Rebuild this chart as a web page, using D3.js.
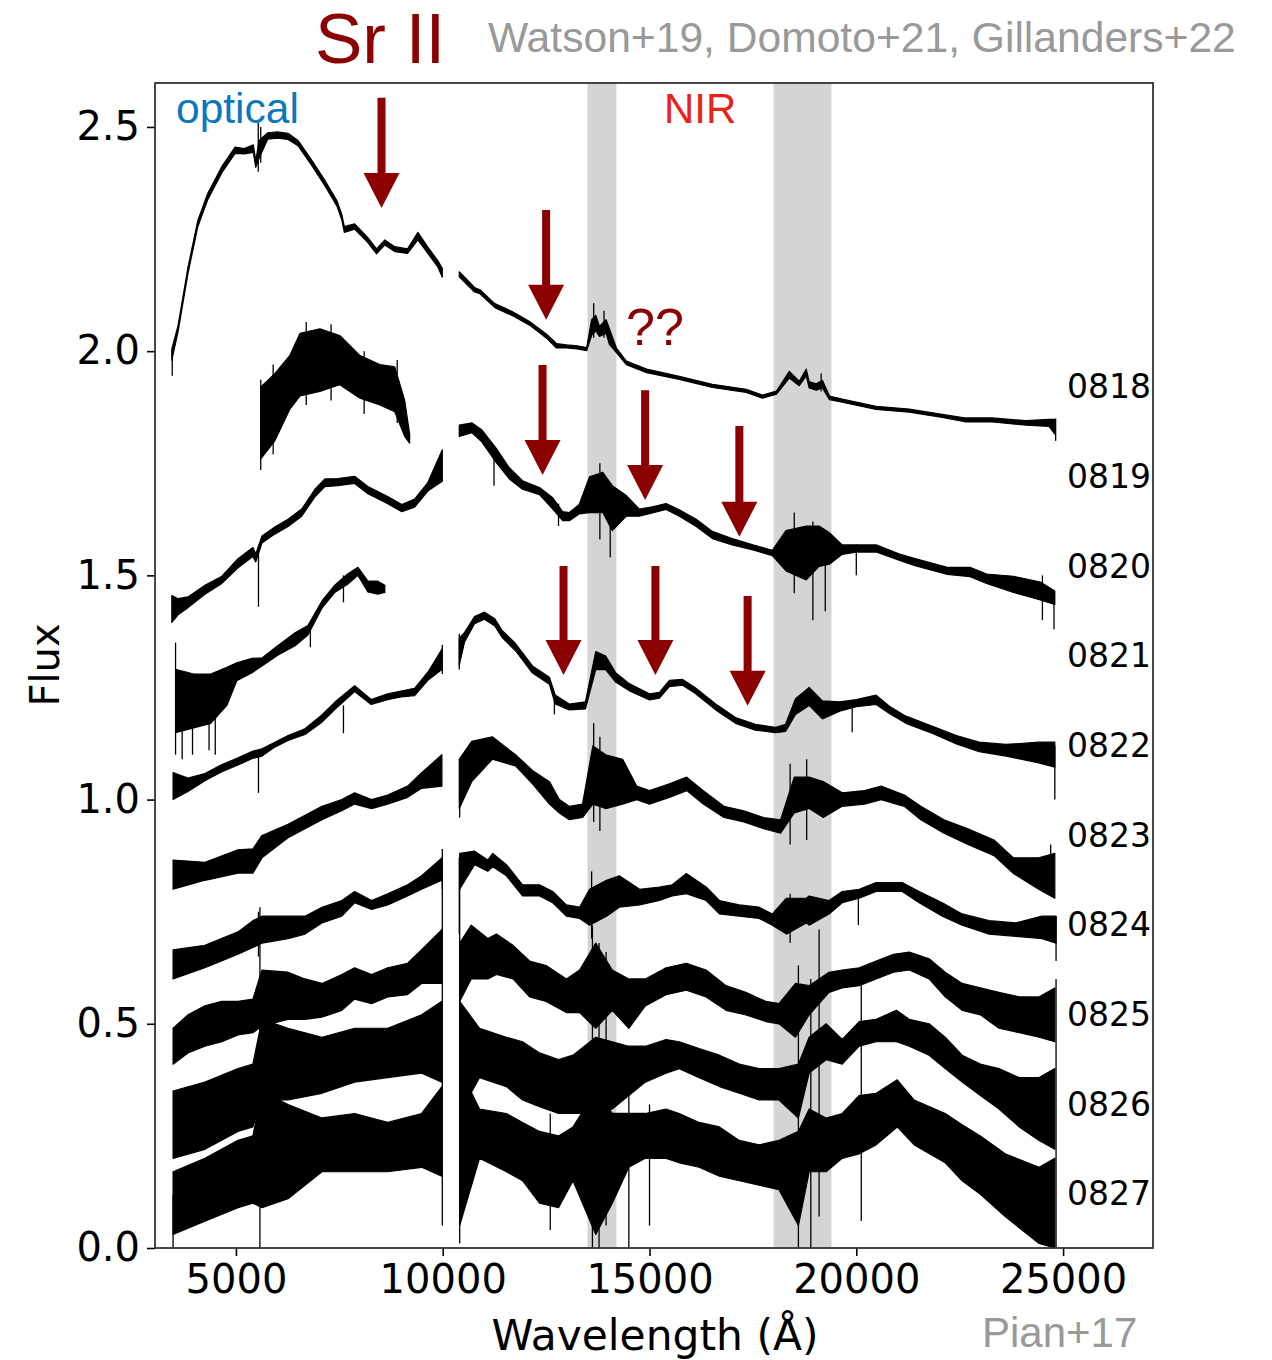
<!DOCTYPE html>
<html>
<head>
<meta charset="utf-8">
<script src="https://cdn.jsdelivr.net/npm/d3@7"></script>
<style>
  body { margin: 0; background: #fff; }
  .axis text { font-family: "DejaVu Sans", sans-serif; font-size: 40px; fill: #000; }
  .axis line { stroke: #000; stroke-width: 1.6; }
</style>
</head>
<body>
<svg id="chart" width="1272" height="1360"></svg>
<script>
// ── Axis / label data ──
const xTicks = [5000, 10000, 15000, 20000, 25000];
const yTicks = [0, 0.5, 1.0, 1.5, 2.0, 2.5];
const epochs = ["0818", "0819", "0820", "0821", "0822", "0823", "0824", "0825", "0826", "0827"];
const labelFlux = [1.895, 1.695, 1.495, 1.295, 1.095, 0.895, 0.695, 0.495, 0.295, 0.095];
const telluricBands = [[13500, 14200], [18000, 19400]];
// Sr II arrows: [wavelength, flux at tail, flux at tip]
const srArrows = [
  [8520, 2.565, 2.319], [12500, 2.315, 2.07],
  [12414, 1.969, 1.724], [14894, 1.913, 1.668], [17172, 1.833, 1.586],
  [12921, 1.521, 1.278], [15143, 1.521, 1.278], [17372, 1.454, 1.209]
];

// ── Spectra: segments of [wavelength, low, high] ──
const spec0818 = [
  [[3450,1.98,2.005],[3600,2.043,2.057],[3840,2.173,2.187],[4080,2.278,2.292],[4320,2.338,2.352],
   [4660,2.398,2.412],[4980,2.441,2.455],[5200,2.44,2.452],[5420,2.443,2.46],[5480,2.41,2.425],
   [5560,2.43,2.47],[5770,2.473,2.487],[6000,2.475,2.489],[6260,2.472,2.486],[6500,2.458,2.47],
   [6840,2.413,2.425],[7150,2.369,2.381],[7440,2.324,2.336],[7560,2.293,2.305],[7620,2.265,2.278],
   [7870,2.272,2.284],[8190,2.242,2.253],[8400,2.217,2.228],[8600,2.237,2.248],[8840,2.222,2.233],
   [9150,2.218,2.228],[9400,2.248,2.265],[9640,2.218,2.232],[9880,2.188,2.202],[9990,2.165,2.185]],
  [[10400,2.166,2.177],[10770,2.132,2.142],[10900,2.128,2.137],[11260,2.097,2.106],[11690,2.079,2.088],
   [12100,2.058,2.066],[12510,2.029,2.038],[12750,2.007,2.017],[13000,2.007,2.014],[13250,2.005,2.012],
   [13480,2.001,2.008],[13600,2.035,2.07],[13700,2.045,2.08],[13790,2.033,2.055],[13950,2.04,2.07],
   [14030,2.015,2.05],[14200,1.997,2.007],[14440,1.97,1.978],[14930,1.952,1.96],[15720,1.937,1.944],
   [16520,1.919,1.926],[17340,1.908,1.915],[17730,1.895,1.902],[18070,1.904,1.911],[18380,1.94,1.955],
   [18620,1.923,1.933],[18790,1.945,1.96],[18860,1.918,1.932],[19030,1.913,1.927],[19180,1.918,1.935],
   [19350,1.892,1.9],[19660,1.886,1.893],[20480,1.87,1.877],[21280,1.864,1.871],[22080,1.852,1.859],
   [22650,1.842,1.851],[23290,1.842,1.851],[24110,1.835,1.845],[24660,1.832,1.848],[24800,1.815,1.848]]
];
const spec0819 = [
  [[5600,1.76,1.92],[5940,1.80,1.95],[6300,1.87,1.99],[6550,1.90,2.04],[7030,1.91,2.05],
   [7510,1.925,2.035],[8000,1.895,1.99],[8480,1.88,1.97],[8840,1.865,1.965],[9080,1.81,1.89],[9200,1.795,1.815]]
];
const spec0820 = [
  [[3450,1.395,1.455],[3600,1.412,1.448],[3840,1.428,1.452],[4250,1.458,1.478],[4660,1.482,1.498],
   [5050,1.517,1.537],[5410,1.542,1.562],[5480,1.53,1.548],[5630,1.572,1.588],[5940,1.592,1.608],
   [6260,1.609,1.625],[6590,1.632,1.648],[6910,1.675,1.692],[7150,1.698,1.715],[7460,1.7,1.716],
   [7870,1.705,1.721],[8190,1.682,1.698],[8670,1.66,1.676],[9010,1.642,1.658],[9320,1.652,1.67],
   [9640,1.688,1.707],[9990,1.71,1.78]],
  [[10400,1.81,1.835],[10710,1.818,1.84],[10950,1.797,1.824],[11290,1.752,1.784],[11610,1.715,1.74],
   [11930,1.692,1.711],[12340,1.68,1.696],[12660,1.648,1.673],[12900,1.622,1.642],[13060,1.622,1.64],
   [13300,1.637,1.658],[13550,1.64,1.72],[13870,1.64,1.73],[14100,1.60,1.70],[14440,1.632,1.678],
   [14750,1.632,1.648],[15070,1.639,1.653],[15400,1.647,1.66],[15720,1.632,1.646],[16130,1.609,1.625],
   [16520,1.582,1.598],[17000,1.568,1.582],[17500,1.557,1.568],[17970,1.544,1.556],[18300,1.51,1.60],
   [18790,1.49,1.61],[19100,1.52,1.61],[19350,1.525,1.595],[19660,1.547,1.568],[20000,1.552,1.568],
   [20480,1.552,1.568],[21030,1.534,1.548],[21400,1.522,1.538],[22200,1.502,1.518],[22750,1.497,1.518],
   [23150,1.482,1.503],[23800,1.462,1.498],[24450,1.445,1.485],[24800,1.435,1.465]]
];
const spec0821 = [
  [[3560,1.15,1.29],[3980,1.16,1.28],[4390,1.17,1.28],[4780,1.21,1.295],[5020,1.265,1.305],
   [5390,1.283,1.315],[5630,1.298,1.316],[6010,1.322,1.343],[6430,1.343,1.372],[6740,1.367,1.388],
   [7080,1.427,1.443],[7390,1.462,1.478],[7700,1.48,1.503],[7950,1.50,1.518],[8190,1.463,1.487],
   [8430,1.458,1.487],[8600,1.462,1.478]]
];
const spec0822 = [
  [[3480,1.0,1.06],[3840,1.018,1.048],[4250,1.042,1.058],[4660,1.062,1.078],[5050,1.077,1.093],
   [5410,1.092,1.108],[5630,1.097,1.113],[5940,1.117,1.128],[6260,1.132,1.143],[6670,1.145,1.158],
   [7070,1.172,1.188],[7400,1.202,1.218],[7870,1.241,1.254],[8270,1.212,1.223],[8670,1.223,1.236],
   [8990,1.229,1.242],[9320,1.232,1.248],[9640,1.266,1.284],[9980,1.29,1.335]],
  [[10400,1.30,1.36],[10530,1.352,1.373],[10770,1.392,1.408],[11010,1.402,1.418],[11260,1.387,1.403],
   [11430,1.362,1.378],[11760,1.332,1.348],[12170,1.282,1.298],[12580,1.257,1.273],[12720,1.213,1.233],
   [13060,1.2,1.213],[13450,1.202,1.218],[13700,1.29,1.33],[13940,1.29,1.32],[14180,1.262,1.283],
   [14520,1.242,1.258],[15000,1.222,1.236],[15240,1.226,1.239],[15480,1.252,1.266],[15800,1.255,1.268],
   [16100,1.237,1.25],[16600,1.2,1.213],[17080,1.17,1.183],[17560,1.155,1.168],[18050,1.149,1.161],
   [18290,1.152,1.168],[18530,1.19,1.225],[18860,1.21,1.25],[19180,1.18,1.22],[19600,1.197,1.218],
   [20000,1.207,1.223],[20480,1.212,1.233],[20800,1.192,1.208],[21200,1.17,1.186],[21860,1.147,1.163],
   [22420,1.124,1.143],[22970,1.107,1.128],[23620,1.097,1.123],[24410,1.082,1.128],[24800,1.072,1.128]]
];
const spec0823 = [
  [[3480,0.80,0.865],[4250,0.82,0.86],[5050,0.836,0.888],[5410,0.836,0.89],[5630,0.87,0.92],
   [6260,0.915,0.945],[7080,0.955,0.985],[7560,0.975,1.0],[7870,0.99,1.015],[8280,0.98,1.0],
   [8670,0.99,1.01],[9150,1.005,1.03],[9490,1.025,1.06],[9980,1.03,1.10]],
  [[10400,0.98,1.09],[10700,1.04,1.13],[11200,1.09,1.14],[11760,1.075,1.10],[12170,1.035,1.065],
   [12580,0.99,1.04],[12820,0.97,1.0],[13060,0.955,0.985],[13380,0.96,0.99],[13630,0.99,1.12],
   [13940,0.98,1.10],[14350,0.99,1.09],[14690,1.0,1.03],[15000,0.99,1.02],[15480,1.005,1.035],
   [15900,1.02,1.05],[16300,0.99,1.02],[16800,0.96,0.985],[17280,0.95,0.975],[17760,0.935,0.96],
   [18170,0.925,0.955],[18500,0.97,1.05],[18860,0.98,1.05],[19200,0.96,1.04],[19660,0.985,1.015],
   [20200,0.99,1.02],[20600,1.0,1.03],[21160,0.985,1.01],[21560,0.955,0.985],[22120,0.925,0.955],
   [22700,0.90,0.935],[23330,0.875,0.91],[23800,0.835,0.87],[24410,0.80,0.87],[24800,0.78,0.88]]
];
const spec0824 = [
  [[3480,0.60,0.665],[4250,0.625,0.675],[5050,0.655,0.705],[5410,0.67,0.73],[5630,0.68,0.74],
   [6260,0.69,0.74],[6670,0.70,0.74],[7080,0.725,0.76],[7560,0.74,0.775],[7870,0.77,0.795],
   [8280,0.755,0.775],[8670,0.765,0.79],[9150,0.785,0.81],[9490,0.80,0.83],[9980,0.82,0.87]],
  [[10410,0.80,0.88],[10770,0.855,0.885],[11090,0.84,0.865],[11210,0.85,0.88],[11540,0.83,0.855],
   [11930,0.785,0.81],[12340,0.785,0.81],[12660,0.77,0.795],[12990,0.74,0.765],[13310,0.735,0.76],
   [13550,0.72,0.80],[13960,0.74,0.82],[14270,0.76,0.83],[14760,0.765,0.80],[15240,0.775,0.805],
   [15550,0.785,0.81],[15890,0.79,0.835],[16370,0.775,0.805],[16690,0.745,0.775],[17170,0.74,0.765],
   [17650,0.735,0.76],[17970,0.72,0.745],[18310,0.70,0.78],[18790,0.725,0.78],[18860,0.72,0.785],
   [19340,0.745,0.775],[19660,0.77,0.795],[20070,0.78,0.80],[20480,0.795,0.815],[21110,0.795,0.815],
   [21520,0.77,0.795],[22080,0.74,0.77],[22560,0.72,0.745],[23210,0.70,0.73],[23860,0.695,0.725],
   [24490,0.69,0.74],[24830,0.68,0.74]]
];
const spec0825 = [
  [[3480,0.41,0.49],[3840,0.435,0.52],[4250,0.45,0.54],[4660,0.46,0.55],[5050,0.475,0.55],
   [5410,0.48,0.555],[5630,0.495,0.62],[6260,0.51,0.615],[6670,0.51,0.60],[7080,0.515,0.59],
   [7560,0.53,0.61],[7870,0.555,0.625],[8280,0.545,0.61],[8670,0.56,0.625],[9150,0.565,0.635],
   [9490,0.59,0.665],[9980,0.59,0.71]],
  [[10410,0.55,0.68],[10690,0.60,0.72],[11090,0.60,0.69],[11300,0.61,0.70],[11700,0.60,0.675],
   [12100,0.56,0.64],[12500,0.55,0.63],[12990,0.525,0.60],[13310,0.525,0.62],[13700,0.49,0.68],
   [14100,0.53,0.62],[14500,0.49,0.60],[14900,0.54,0.60],[15400,0.565,0.625],[15890,0.575,0.635],
   [16370,0.56,0.62],[16850,0.53,0.585],[17330,0.52,0.57],[17810,0.505,0.55],[18130,0.50,0.545],
   [18530,0.47,0.59],[18860,0.52,0.585],[19340,0.57,0.615],[19660,0.58,0.62],[20070,0.585,0.625],
   [20480,0.60,0.64],[20900,0.615,0.655],[21280,0.62,0.66],[21760,0.60,0.645],[22150,0.56,0.615],
   [22560,0.53,0.59],[23000,0.52,0.58],[23450,0.49,0.57],[23940,0.48,0.56],[24420,0.47,0.56],[24800,0.46,0.58]]
];
const spec0826 = [
  [[3480,0.20,0.35],[4250,0.22,0.37],[5050,0.26,0.40],[5410,0.27,0.41],[5630,0.33,0.51],
   [6260,0.33,0.49],[7080,0.345,0.47],[7870,0.37,0.49],[8670,0.38,0.49],[9490,0.39,0.52],[9980,0.37,0.55]],
  [[10410,0.30,0.55],[10890,0.38,0.49],[11540,0.36,0.47],[11930,0.33,0.46],[12340,0.315,0.435],
   [12800,0.30,0.42],[13150,0.30,0.43],[13700,0.30,0.47],[14100,0.31,0.46],[14500,0.34,0.45],
   [14900,0.37,0.45],[15400,0.39,0.465],[15720,0.40,0.46],[16200,0.38,0.445],[16690,0.36,0.43],
   [17170,0.345,0.41],[17650,0.33,0.40],[18130,0.33,0.40],[18600,0.29,0.41],[18860,0.39,0.47],
   [19270,0.42,0.50],[19660,0.41,0.465],[20070,0.45,0.505],[20480,0.46,0.51],[20970,0.46,0.53],
   [21280,0.45,0.51],[21760,0.43,0.50],[22150,0.40,0.47],[22560,0.37,0.43],[23000,0.34,0.41],
   [23450,0.31,0.40],[23940,0.27,0.38],[24420,0.24,0.38],[24800,0.22,0.40]]
];
const spec0827 = [
  [[3480,0.03,0.17],[4250,0.06,0.20],[5050,0.09,0.24],[5410,0.10,0.25],[5630,0.09,0.35],
   [6260,0.11,0.32],[7080,0.17,0.29],[7870,0.17,0.30],[8670,0.17,0.28],[9490,0.18,0.30],[9980,0.16,0.36]],
  [[10410,0.05,0.40],[10890,0.20,0.31],[11540,0.17,0.30],[11930,0.15,0.28],[12340,0.10,0.26],
   [12800,0.09,0.25],[13150,0.15,0.27],[13700,0.03,0.35],[14100,0.10,0.30],[14500,0.18,0.30],
   [14900,0.20,0.30],[15400,0.20,0.31],[15720,0.19,0.30],[16200,0.18,0.28],[16690,0.16,0.27],
   [17170,0.15,0.24],[17650,0.14,0.23],[18130,0.13,0.24],[18600,0.05,0.26],[18860,0.17,0.31],
   [19270,0.17,0.29],[19660,0.20,0.30],[20070,0.21,0.34],[20480,0.23,0.345],[20990,0.27,0.375],
   [21400,0.23,0.33],[22150,0.19,0.30],[22560,0.15,0.275],[23000,0.12,0.25],[23600,0.07,0.21],
   [24420,0.01,0.18],[24800,0.00,0.20]]
];
// narrow spikes (telluric residuals, arm edges): [wavelength, low, high]
const spikes = [
  [3460,1.945,2.0],[5540,2.40,2.51],[5600,2.42,2.50],[13650,2.03,2.107],[13900,2.03,2.09],[19150,1.91,1.95],[24820,1.80,1.85],
  [5545,1.43,1.56],[11240,1.70,1.78],[12800,1.61,1.66],[13800,1.58,1.75],[14050,1.54,1.70],[18500,1.46,1.64],
  [18950,1.40,1.62],[19250,1.42,1.60],[20000,1.50,1.57],[24500,1.40,1.50],[24780,1.38,1.46],
  [5600,1.735,1.936],[5900,1.77,1.97],[6700,1.88,2.065],[7300,1.89,2.06],[8100,1.86,2.0],[8900,1.84,1.98],
  [3540,1.10,1.35],[3700,1.09,1.28],[3950,1.10,1.27],[4350,1.11,1.28],[4500,1.10,1.26],[6800,1.34,1.39],[7600,1.44,1.50],
  [5545,1.015,1.10],[7600,1.148,1.21],[9990,1.28,1.345],[10400,1.29,1.37],[12700,1.19,1.24],[19900,1.15,1.22],[24800,1.00,1.12],
  [10410,0.96,1.09],[13650,0.95,1.17],[13800,0.93,1.14],[18400,0.90,1.08],[18800,0.91,1.09],[24700,0.80,0.90],
  [5545,0.65,0.75],[9990,0.80,0.89],[10400,0.70,0.87],[13600,0.69,0.84],[18400,0.68,0.79],[20050,0.72,0.80],[24830,0.64,0.74],
  [5580,0.0,0.76],[10410,0.01,0.84],[9990,0.05,0.85],[13620,0.0,0.72],[13780,0.0,0.68],[13950,0.05,0.66],
  [18600,0.0,0.63],[18900,0.0,0.60],[19100,0.07,0.71],[20120,0.06,0.59],[24830,0.0,0.60],
  [12600,0.04,0.30],[14500,0.0,0.35],[15000,0.05,0.32],[3480,0.0,0.12]
];
const spectra = [spec0818, spec0819, spec0820, spec0821, spec0822, spec0823, spec0824, spec0825, spec0826, spec0827];

// ── Layout ──
const plot = { left: 155, right: 1153, top: 83, bottom: 1248 };
const darkRed = "#8b0000";
const svg = d3.select("#chart");

const x = d3.scaleLinear().domain([3043, 27174]).range([plot.left, plot.right]);
const y = d3.scaleLinear().domain([0, 2.598]).range([plot.bottom, plot.top]);

// grey telluric bands
svg.append("g").selectAll("rect")
  .data(telluricBands)
  .join("rect")
  .attr("x", d => x(d[0]))
  .attr("y", plot.top)
  .attr("width", d => x(d[1]) - x(d[0]))
  .attr("height", plot.bottom - plot.top)
  .attr("fill", "#d4d4d4");

// spectra
const band = d3.area()
  .x(d => x(d[0]))
  .y0(d => y(d[1]))
  .y1(d => y(d[2]));

const gSpec = svg.append("g");
gSpec.selectAll("path")
  .data(spectra.flat())
  .join("path")
  .attr("d", band)
  .attr("fill", "#000")
  .attr("stroke", "#000")
  .attr("stroke-width", 1.2)
  .attr("stroke-linejoin", "round");

gSpec.selectAll("line")
  .data(spikes)
  .join("line")
  .attr("x1", d => x(d[0])).attr("x2", d => x(d[0]))
  .attr("y1", d => y(d[1])).attr("y2", d => y(d[2]))
  .attr("stroke", "#000")
  .attr("stroke-width", 1.3);

// ── Axes ──
svg.append("g")
  .attr("class", "axis")
  .attr("transform", `translate(${plot.left},0)`)
  .call(d3.axisLeft(y).tickValues(yTicks).tickFormat(d3.format(".1f")).tickSize(8).tickPadding(7))
  .call(g => g.select(".domain").remove());

svg.append("g")
  .attr("class", "axis")
  .attr("transform", `translate(0,${plot.bottom})`)
  .call(d3.axisBottom(x).tickValues(xTicks).tickFormat(d3.format("d")).tickSize(8).tickPadding(9))
  .call(g => g.select(".domain").remove());

svg.append("rect")
  .attr("x", plot.left).attr("y", plot.top)
  .attr("width", plot.right - plot.left)
  .attr("height", plot.bottom - plot.top)
  .attr("fill", "none")
  .attr("stroke", "#333")
  .attr("stroke-width", 1.8);

svg.append("text")
  .attr("transform", "translate(45,665) rotate(-90)")
  .attr("text-anchor", "middle")
  .attr("dominant-baseline", "central")
  .style("font-family", "DejaVu Sans")
  .style("font-size", "40px")
  .text("Flux");

svg.append("text")
  .attr("x", 655).attr("y", 1350)
  .attr("text-anchor", "middle")
  .style("font-family", "DejaVu Sans")
  .style("font-size", "42.4px")
  .text("Wavelength (Å)");

// epoch labels
svg.append("g").selectAll("text")
  .data(epochs)
  .join("text")
  .attr("x", 1067)
  .attr("y", (d, i) => y(labelFlux[i]))
  .style("font-family", "DejaVu Sans")
  .style("font-size", "33px")
  .text(d => d);

// ── Sr II arrows ──
svg.append("g").selectAll("path")
  .data(srArrows)
  .join("path")
  .attr("d", ([w, fTop, fTip]) => {
    const cx = x(w), yt = y(fTop), yp = y(fTip), hb = yp - 35;
    return `M${cx - 4},${yt}H${cx + 4}V${hb}H${cx + 18}L${cx},${yp}L${cx - 18},${hb}H${cx - 4}Z`;
  })
  .attr("fill", darkRed);

// ── Annotations ──
const note = (txt, px, py, size, color) =>
  svg.append("text")
    .attr("x", px).attr("y", py)
    .style("font-family", "Liberation Sans, Arial, sans-serif")
    .style("font-size", size + "px")
    .attr("fill", color)
    .text(txt);

note("Sr II", 315, 63, 71, darkRed);
note("Watson+19, Domoto+21, Gillanders+22", 488, 52, 42.6, "#999");
note("optical", 176, 123, 42.5, "#0b78be");
note("NIR", 664, 123, 42, "#e8231a");
note("??", 626, 345, 52, darkRed);
note("Pian+17", 982, 1347, 42, "#999");
</script>
</body>
</html>
